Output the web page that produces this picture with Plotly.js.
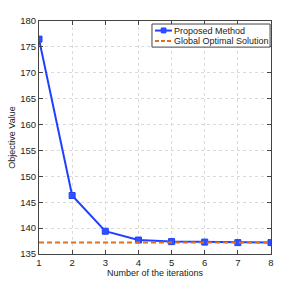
<!DOCTYPE html>
<html><head><meta charset="utf-8">
<script src="https://cdn.plot.ly/plotly-3.0.1.min.js"></script>
<style>html,body{margin:0;padding:0;background:#fff}#c{width:300px;height:286px}</style>
</head><body><div id="c"></div>
<script>
var iterations = [1, 2, 3, 4, 5, 6, 7, 8];
var proposed = [176.5, 146.3, 139.4, 137.7, 137.4, 137.3, 137.2, 137.2];
var optimalValue = 137.2;
var optimal = iterations.map(function(){ return optimalValue; });
var xTicks = [1, 2, 3, 4, 5, 6, 7, 8];
var yTicks = [135, 140, 145, 150, 155, 160, 165, 170, 175, 180];
var seriesNames = ['Proposed Method', 'Global Optimal Solution'];

var blue = '#2040ff', orange = '#e0701a';
var traces = [
  {x: iterations, y: proposed, name: seriesNames[0], mode: 'lines+markers',
   line: {color: blue, width: 2},
   marker: {symbol: 'square', size: 6, color: '#3050ff', line: {color: blue, width: 1}}},
  {x: iterations, y: optimal, name: seriesNames[1], mode: 'lines',
   line: {color: orange, width: 2, dash: '5px,3px'}}
];
var FONT = 'Liberation Sans, Arial, sans-serif';
var axBase = {showline: true, mirror: 'ticks', linecolor: '#444', linewidth: 1,
  ticks: 'inside', ticklen: 4, tickcolor: '#444', showgrid: true,
  gridcolor: '#dadada', griddash: 'dot', gridwidth: 1, zeroline: false,
  tickfont: {family: FONT, size: 9.5, color: '#222'}};

// legend box drawn in paper space (compact, MATLAB-style)
var lg = {x0: 0.487, x1: 0.996, y0: 0.888, y1: 0.987, sx0: 0.5, sx1: 0.573, tx: 0.58, rows: [0.959, 0.914]};
var shapes = [
  {type: 'rect', xref: 'paper', yref: 'paper', x0: lg.x0, x1: lg.x1, y0: lg.y0, y1: lg.y1,
   fillcolor: '#fff', line: {color: '#444', width: 1}, layer: 'above'},
  {type: 'line', xref: 'paper', yref: 'paper', x0: lg.sx0, x1: lg.sx1, y0: lg.rows[0], y1: lg.rows[0],
   line: {color: blue, width: 2}, layer: 'above'},
  {type: 'rect', xref: 'paper', yref: 'paper', x0: 0.527, x1: 0.547, y0: 0.949, y1: 0.970,
   fillcolor: '#3050ff', line: {color: blue, width: 1}, layer: 'above'},
  {type: 'line', xref: 'paper', yref: 'paper', x0: lg.sx0, x1: lg.sx1, y0: lg.rows[1], y1: lg.rows[1],
   line: {color: orange, width: 2, dash: '4px,2px'}, layer: 'above'}
];
var annotations = seriesNames.map(function(n, i){
  return {xref: 'paper', yref: 'paper', x: lg.tx, y: lg.rows[i], text: n, showarrow: false,
    xanchor: 'left', yanchor: 'middle', xshift: -2, font: {family: FONT, size: 9, color: '#222'}};
});
var layout = {
  width: 300, height: 286,
  margin: {l: 39, r: 29, t: 21, b: 32},
  paper_bgcolor: '#fff', plot_bgcolor: '#fff',
  font: {family: FONT, size: 9, color: '#222'},
  xaxis: Object.assign({}, axBase, {range: [1, 8], tickvals: xTicks,
    title: {text: 'Number of the iterations', standoff: 1, font: {family: FONT, size: 9}}}),
  yaxis: Object.assign({}, axBase, {range: [135, 180], tickvals: yTicks,
    title: {text: 'Objective Value', standoff: 3, font: {family: FONT, size: 9}}}),
  showlegend: false,
  shapes: shapes,
  annotations: annotations
};
Plotly.newPlot('c', traces, layout, {displayModeBar: false, staticPlot: true});
</script></body></html>
